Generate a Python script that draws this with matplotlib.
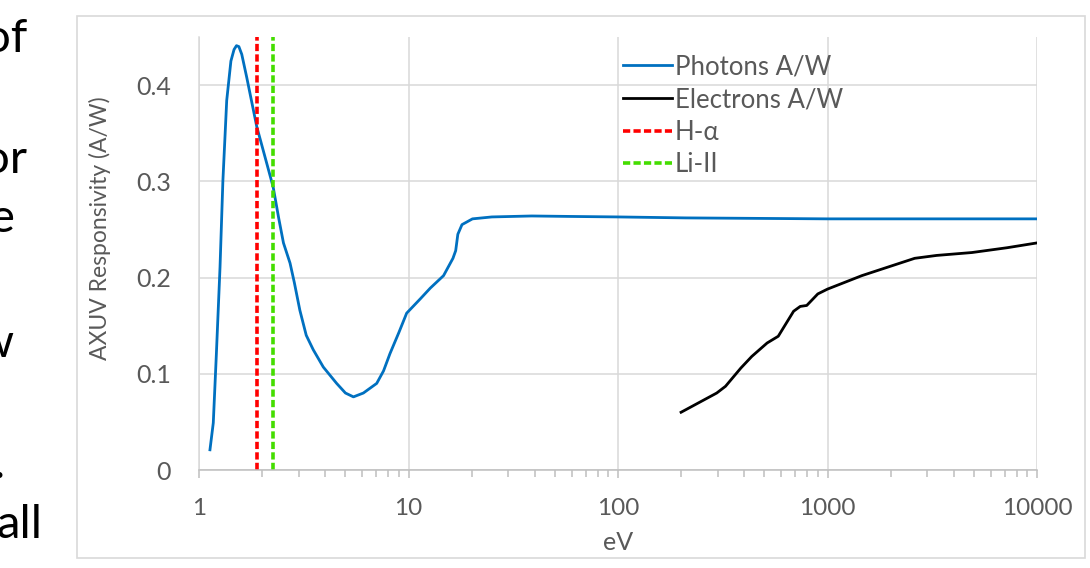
import numpy as np
import matplotlib.pyplot as plt
from matplotlib.patches import Rectangle

# photon responsivity (eV, A/W)
photon_ev = [1.128, 1.17, 1.21, 1.26, 1.30, 1.356, 1.42, 1.47, 1.51, 1.55, 1.60,
             1.69, 1.886, 2.05, 2.26, 2.40, 2.53, 2.72, 2.85, 3.03, 3.25, 3.51,
             3.92, 4.54, 5.0, 5.46, 6.09, 7.05, 7.6, 8.16, 9.0, 9.8, 11.4, 12.7,
             14.7, 16.3, 16.8, 17.2, 18.0, 20.2, 25, 38.7, 60, 100, 210, 1000, 10000]
photon_aw = [0.021, 0.049, 0.12, 0.211, 0.30, 0.384, 0.425, 0.437, 0.441, 0.440, 0.432,
             0.408, 0.357, 0.328, 0.294, 0.262, 0.236, 0.215, 0.195, 0.166, 0.140, 0.125,
             0.107, 0.090, 0.080, 0.076, 0.080, 0.090, 0.103, 0.121, 0.143, 0.163, 0.178, 0.189,
             0.202, 0.220, 0.228, 0.245, 0.255, 0.261, 0.263, 0.264, 0.2635, 0.263, 0.262, 0.261, 0.261]

# electron responsivity
electron_ev = [200, 296, 326, 386, 435, 515, 582, 625, 689, 741, 796, 899, 1000,
               1459, 1950, 2607, 3319, 4889, 7200, 10000]
electron_aw = [0.060, 0.080, 0.087, 0.106, 0.118, 0.132, 0.139, 0.150, 0.165, 0.170,
               0.171, 0.183, 0.188, 0.202, 0.211, 0.220, 0.223, 0.226, 0.231, 0.236]

h_alpha = 1.89
li_ii = 2.26

grey = '#595959'
plt.rcParams['font.family'] = ['Lato', 'DejaVu Sans']

fig = plt.figure(figsize=(10.9, 5.68), dpi=100)
W, H = 1090, 568
ax = fig.add_axes([199 / W, 1 - 470 / H, 838 / W, 433 / H])

# chart frame
fig.patches.append(Rectangle((77 / W, 1 - 558 / H), 1008 / W, 542 / H,
                             transform=fig.transFigure, fill=False,
                             edgecolor='#D9D9D9', lw=1.2))

ax.plot(photon_ev, photon_aw, color='#0070C0', lw=2.0, label='Photons A/W',
        solid_joinstyle='round')
ax.plot(electron_ev, electron_aw, color='black', lw=2.0, label='Electrons A/W',
        solid_joinstyle='round')
l1, = ax.plot([h_alpha, h_alpha], [0, 0.45], color='#FF0000', lw=2.6, label='H-α')
l2, = ax.plot([li_ii, li_ii], [0, 0.45], color='#44DD00', lw=2.6, label='Li-II')
for l in (l1, l2):
    l.set_dashes([2.0, 0.9])

ax.set_xscale('log')
ax.set_xlim(1, 10000)
ax.set_ylim(0, 0.45)
ax.set_yticks([0, 0.1, 0.2, 0.3, 0.4])
ax.set_yticklabels(['0', '0.1', '0.2', '0.3', '0.4'])
ax.set_xticks([1, 10, 100, 1000, 10000])
ax.set_xticklabels(['1', '10', '100', '1000', '10000'])

ax.grid(True, which='major', color='#D9D9D9', lw=1.1)
ax.set_axisbelow(True)
for s in ('top', 'right'):
    ax.spines[s].set_visible(False)
ax.spines['left'].set_color('#D9D9D9')
ax.spines['bottom'].set_color('#BFBFBF')
ax.spines['left'].set_linewidth(1.1)
ax.spines['bottom'].set_linewidth(1.1)

ax.tick_params(axis='y', length=0, pad=20, labelsize=18, labelcolor=grey)
ax.tick_params(axis='x', which='major', length=6, width=1.1, color='#BFBFBF',
               pad=14, labelsize=17.5, labelcolor=grey)
ax.tick_params(axis='x', which='minor', length=5, width=1.1, color='#BFBFBF')

ax.set_xlabel('eV', fontsize=18, color=grey, labelpad=9)
ax.set_ylabel('AXUV Responsivity (A/W)', fontsize=16.5, color=grey)
ax.yaxis.set_label_coords(-0.105, 0.559)

ax.legend(loc='upper left', bbox_to_anchor=(0.506, 0.96), frameon=False,
          fontsize=18.5, handlelength=1.9, handletextpad=0.12, labelspacing=0.3,
          borderpad=0, borderaxespad=0, labelcolor=grey)

# clipped slide text on the left
for txt, xr, yb in [('of', 27, 52), ('or', 27, 173), ('e', 15, 232),
                    ('w', 13, 357), ('.', 5, 478), ('all', 42, 538)]:
    fig.text(xr / W, 1 - yb / H, txt, ha='right', va='baseline', fontsize=34,
             color='black')

fig.savefig('out.png', dpi=100)
